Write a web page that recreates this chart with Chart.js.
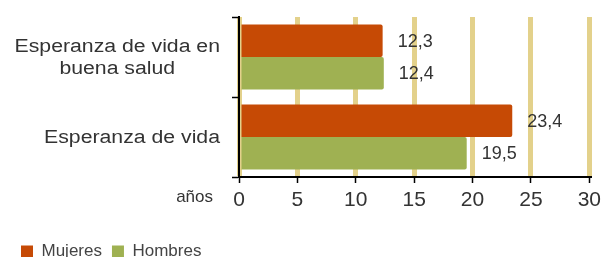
<!DOCTYPE html>
<html>
<head>
<meta charset="utf-8">
<script src="https://cdn.jsdelivr.net/npm/chart.js@4"></script>
<style>
  html, body { margin:0; padding:0; background:#fff; }
  #wrap { width:606px; height:257px; position:relative; }
</style>
</head>
<body>
<div id="wrap"><canvas id="chart"></canvas></div>
<script>
const categories = [['Esperanza de vida en', 'buena salud'], ['Esperanza de vida']];
const seriesNames = ['Mujeres', 'Hombres'];
const mujeres = [12.3, 23.4];
const hombres = [12.4, 19.5];
const xMin = 0, xMax = 30, xStep = 5;
const unitLabel = 'años';

const FONT = '"Liberation Sans", Arial, sans-serif';
const colors = ['#c64a05', '#9fb152'];

const fmt = v => v.toFixed(1).replace('.', ',');

/* value labels + category labels + unit */
const extras = {
  id: 'extras',
  afterDatasetsDraw(chart){
    const ctx = chart.ctx;
    ctx.save();
    ctx.fillStyle = '#333';
    ctx.font = '18px ' + FONT;
    ctx.textAlign = 'left';
    ctx.textBaseline = 'middle';
    chart.data.datasets.forEach((ds, i)=>{
      chart.getDatasetMeta(i).data.forEach((bar, j)=>{
        ctx.fillText(fmt(ds.data[j]), bar.x + 15, bar.y + 1);
      });
    });

    // category labels, a bit wide like the original
    const y = chart.scales.y;
    ctx.font = '18px ' + FONT;
    const stretch = 1.18;
    const right = y.right - 19;
    categories.forEach((lines, j)=>{
      const cy = y.getPixelForTick(j);
      const w = Math.max(...lines.map(l => ctx.measureText(l).width)) * stretch;
      const cx = right - w/2;
      const lh = 22;
      ctx.textAlign = 'center';
      lines.forEach((l, k)=>{
        ctx.save();
        ctx.translate(cx, cy + 1 + (k - (lines.length-1)/2)*lh);
        ctx.scale(stretch, 1);
        ctx.fillText(l, 0, 0);
        ctx.restore();
      });
    });

    const x = chart.scales.x;
    ctx.font = '17px ' + FONT;
    ctx.textAlign = 'right';
    ctx.fillText(unitLabel, x.left - 26, x.top + 20);
    ctx.restore();
  }
};

new Chart(document.getElementById('chart'), {
  type: 'bar',
  data: {
    labels: categories,
    datasets: [
      { label: seriesNames[0], data: mujeres, backgroundColor: colors[0] },
      { label: seriesNames[1], data: hombres, backgroundColor: colors[1] }
    ]
  },
  options: {
    indexAxis: 'y',
    responsive: true,
    maintainAspectRatio: false,
    animation: false,
    layout: { padding: { top: 17, right: 14, bottom: -13, left: 11 } },
    datasets: { bar: { categoryPercentage: 0.81, barPercentage: 1, borderRadius: 2 } },
    scales: {
      x: {
        min: xMin, max: xMax,
        ticks: { stepSize: xStep, color: '#333', font: { family: FONT, size: 21 }, padding: 5 },
        grid: { color: '#e3d18b', lineWidth: 5, tickColor: '#000', tickWidth: 1.5, tickLength: 6 },
        border: { color: '#000', width: 2 },
        afterFit: s => { s.height = 56; }
      },
      y: {
        ticks: { color: 'rgba(0,0,0,0)' },
        grid: { offset: true, drawOnChartArea: false, tickColor: '#000', tickWidth: 1.5, tickLength: 7 },
        border: { color: '#000', width: 2 },
        afterFit: s => { s.width = 228; }
      }
    },
    plugins: {
      legend: {
        position: 'bottom',
        align: 'start',
        labels: { boxWidth: 12, boxHeight: 12, padding: 10, color: '#444', font: { family: FONT, size: 17 } }
      },
      tooltip: { enabled: false }
    }
  },
  plugins: [extras]
});
</script>
</body>
</html>
